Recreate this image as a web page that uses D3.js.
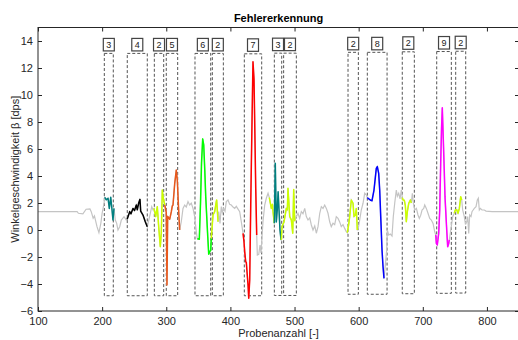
<!DOCTYPE html>
<html>
<head>
<meta charset="utf-8">
<script src="https://cdn.jsdelivr.net/npm/d3@7"></script>
<style>
  body { margin: 0; background: #fff; }
  svg { font-family: "Liberation Sans", Arial, sans-serif; }
</style>
</head>
<body>
<div id="chart"></div>
<script>
// ---- data ----
const xTicks = [100, 200, 300, 400, 500, 600, 700, 800];
const yTicks = [-6, -4, -2, 0, 2, 4, 6, 8, 10, 12, 14];

// signal: sample index / angular rate
const sampleX = [100, 161, 163, 170, 175, 181, 183, 186, 188, 192, 195, 198, 200, 203,
  204, 206.5, 209.2, 211.2, 213.4, 215.4, 216.9, 218.5, 220.5,
  222.7, 224.7, 227.4, 229.9, 234.1, 237.7,
  239, 243, 245, 248.1, 250.5, 253.3, 254.8, 257, 259, 260.1, 263.7, 267.3, 270.4,
  272.6, 275.1, 277.3, 279.3,
  280.9, 283.5, 286, 288.2, 290.7, 292.3, 293.8, 295.4, 297.6,
  300, 301.1, 302.2, 305.4, 307.9, 309.4, 310.5, 313.2, 315.6, 317.2, 319.4, 320.9,
  323.4, 326.1, 328.7, 331.2, 333.9, 336.5, 339, 341.7, 344.3, 346.8, 348.4,
  351.5, 353.4, 355, 356.8, 358.4, 360, 361.5, 363.1, 364.7, 366.2, 367.8, 369.3, 370.2,
  371.3, 372.9, 375.5, 378, 378.6, 380.7,
  381.8, 383.8, 385.8, 387.4, 389.6, 391.6, 393.6, 396.3, 398.9, 401.4, 404.1, 406.7, 409.2, 411.9, 414.5, 417, 419.7,
  421.2, 422.3, 423.9, 424.8, 425.9, 427.5, 428.6, 430.1, 431.7, 433.7, 435.2, 436.8, 437.9, 439.5, 441,
  442, 444.2, 446.2, 447.7, 449.3, 450.8, 453.5, 456, 458.7, 460.7,
  463.8, 465.4, 466.4, 468.5,
  470, 471.6, 473.1, 474.4, 475.8, 477.3, 478.9, 479.4,
  480.5, 483.6, 487.2, 488.8, 489.8, 492.5, 495, 497.2, 498.7, 500.3,
  502.8, 505.4, 508, 510.6, 513.2, 515.9, 518.4, 521, 523.7, 526.2, 528.8, 531.5, 534, 536.6, 539.3, 541.8,
  544.4, 547, 549.6, 552.2, 554.8, 557.3, 560, 562.6, 565.1, 567.8, 570.4, 572.9, 575.6, 578.2, 580.7,
  582.3, 584.1, 586, 588.5, 591.2, 592.7, 594.8, 596.3, 597.9,
  599, 601.6, 604.1, 606.8, 609.4, 611.9, 613.5,
  614.6, 618.8, 620.8, 623.9, 627.5, 629.1, 631.2, 632.8, 634.4, 636.4, 638, 639.5,
  641.6, 643.7, 644.7, 646.8, 649.3, 652, 654, 656.2, 658.7, 660.3, 662.4, 664.5, 666.5, 668.1,
  669.2, 671.2, 672.8, 674.3, 675.9, 678.1, 680.6, 682.1,
  683.7, 685.3, 687.4, 690, 692.5, 694.6, 696.8, 698.8, 701.4, 703, 705.5, 708.1, 710.8, 713.3, 716, 718.6, 720.2,
  721.1, 722.6, 724.8, 726.4, 727.9, 729.2, 730.4, 732, 733.4, 734.6, 737.3, 738.8, 740.4, 741.3,
  744, 746.6, 749.1,
  750.7, 752.9, 754.9, 757, 759.1, 760.7,
  762.2, 764.7, 766.3, 768.5, 770, 771.6, 773.1, 775.2, 776.7, 778.8, 780.3, 783, 785, 786.6, 788.1, 789.7,
  792.3, 795.9, 798.6, 808, 850];
const rateY = [1.36, 1.36, 1.24, 1.19, 1.54, 1.56, 1.36, 0.87, 1.04, 0.25, -0.2, 0.5, 1.24, 1.98,
  2.42, 2.24, 2.35, 1.6, 2.42, 1.5, 0.74, 1.6, 0.74,
  0.49, 0.0, 0.24, 0.74, 0.99, 0.74,
  0.8, 1.36, 1.2, 1.6, 1.45, 1.85, 1.5, 2.0, 2.27, 1.4, 1.11, 0.61, 0.24,
  0.7, 1.24, 1.73, 1.5,
  1.6, 0.99, 1.73, 0.24, -1.24, -0.2, 2.96, 2.35, 1.85,
  1.3, -4.07, 1.0, 0.8, 1.36, 1.78, 1.85, 3.46, 4.44, 3.7, 1.36, 0.0,
  0.61, 1.6, 1.85, 1.7, 2.1, 1.85, 1.98, 1.6, 0.99, -0.1, -0.65,
  -0.69, 2.0, 5.0, 6.75, 6.3, 4.5, 2.5, 0.99, -0.5, -1.8, -1.6, -1.5, -0.62,
  0.12, 1.11, 1.36, 2.1, 2.22, 0.61,
  1.36, 0.49, 1.73, 1.3, 1.6, 1.4, 2.1, 2.22, 1.9, 1.85, 1.7, 1.6, 1.75, 1.55, 1.36, 0.61, -0.25,
  -0.87, -1.6, -2.35, -2.4, -3.09, -4.07, -5.06, -3.7, 1.85, 8.02, 12.47, 11.2, 7.98, 3.09, -0.37,
  -1.85, -1.8, -1.11, -1.7, -0.5, 0.61, 1.85, 2.35, 2.72, 2.4,
  1.6, 1.9, 1.36, 0.5,
  4.94, 0.6, 1.5, 2.84, 1.5, 0.0, -0.7, -0.74,
  0.25, 0.61, 1.6, 1.5, 3.09, 1.0, 0.75, -0.24, 3.0, 0.65,
  0.99, 1.24, 0.86, 1.36, 1.2, 1.6, 0.99, 0.74, 0.9, 0.37, 0.0, 0.3, -0.24, 0.25, 1.24, 1.73,
  1.6, 1.85, 1.6, 1.24, 0.61, 0.25, 0.5, 0.4, 0.99, 0.86, 0.6, 0.25, 0.4, 0.12, -0.12,
  -0.2, 0.3, 0.99, 2.22, 1.98, 1.0, 1.11, 1.6, 0.0,
  0.0, 0.74, 1.48, 1.98, 2.72, 2.6, 2.4,
  2.35, 2.2, 2.17, 2.96, 4.57, 4.7, 4.2, 2.96, 0.99, -1.48, -2.72, -3.58,
  -2.59, -1.48, 0.0, -0.37, -0.3, -0.44, 0.99, 1.98, 2.96, 2.5, 2.72, 2.3, 2.96, 2.4,
  2.22, 2.2, 1.8, 0.61, 1.36, 1.98, 2.22, 2.0,
  2.72, 2.0, 1.48, 1.6, 1.11, 0.86, 1.1, 1.48, 1.6, 1.85, 1.6, 1.24, 0.86, 0.74, 0.49, -0.13, -0.37,
  -0.99, -1.11, -0.25, 1.48, 4.94, 7.5, 9.06, 6.67, 4.5, 2.47, 0.0, -1.24, -1.0, -0.74,
  0.12, 0.99, 1.24,
  1.48, 1.5, 1.24, 1.6, 2.47, 2.22,
  1.48, 0.99, 0.49, 0.6, 1.0, -0.25, 1.11, 1.0, 1.36, 1.5, 1.6, 1.73, 2.22, 2.35, 1.48, 1.6,
  1.48, 1.48, 1.4, 1.36, 1.36];

// highlighted (classified) stretches of the signal
const segStart = [204, 239, 280.9, 297.6, 348.4, 370.2, 419.7, 460.7, 468.5, 479.4, 582.3, 613.5, 668.1, 720.2, 749.1];
const segEnd   = [218.5, 270.4, 297.6, 320.9, 370.2, 380.7, 441, 468.5, 479.4, 500.3, 597.9, 639.5, 682.1, 741.3, 760.7];
const segColor = ["#008080", "#000000", "#ccff00", "#e8581c", "#00ff00", "#ccff00", "#ff0000", "#ccff00",
  "#008080", "#ccff00", "#ccff00", "#0000ff", "#ccff00", "#ff00ff", "#ccff00"];

// detection windows
const boxStart  = [203.4, 239.2, 281.4, 300, 344.8, 371.8, 421.7, 468.5, 483, 583.4, 613.5, 668, 721.7, 751.3];
const boxEnd    = [217.4, 270.4, 296, 317.8, 369.3, 389, 448.8, 480, 502.8, 599.5, 644.3, 686.8, 744.5, 766.9];
const boxTop    = [13.08, 13.08, 13.08, 13.08, 13.08, 13.08, 13.05, 13.1, 13.1, 13.16, 13.16, 13.2, 13.22, 13.24];
const boxBottom = [-4.87, -4.87, -4.87, -4.87, -4.87, -4.87, -4.87, -4.85, -4.85, -4.76, -4.76, -4.72, -4.69, -4.67];
const boxLabel  = ["3", "4", "2", "5", "6", "2", "7", "3", "2", "2", "8", "2", "9", "2"];

// ---- layout ----
const W = 518, H = 340;
const margin = { top: 27.5, right: -1, bottom: 29, left: 38 };
const width = W - margin.left - margin.right;
const height = H - margin.top - margin.bottom;

const svg = d3.select("#chart").append("svg")
  .attr("width", W)
  .attr("height", H);

const g = svg.append("g")
  .attr("transform", "translate(" + margin.left + "," + margin.top + ")");

const x = d3.scaleLinear().domain([100, 850]).range([0, width]);
const y = d3.scaleLinear().domain([-6, 15]).range([height, 0]);

const pts = sampleX.map((s, i) => ({ s: s, v: rateY[i] }));

const line = d3.line()
  .x(d => x(d.s))
  .y(d => y(d.v));

// dashed windows
g.selectAll(".win")
  .data(boxStart)
  .enter().append("rect")
  .attr("class", "win")
  .attr("x", (d, i) => x(boxStart[i]))
  .attr("y", (d, i) => y(boxTop[i]))
  .attr("width", (d, i) => x(boxEnd[i]) - x(boxStart[i]))
  .attr("height", (d, i) => y(boxBottom[i]) - y(boxTop[i]))
  .style("fill", "none")
  .style("stroke", "#555")
  .style("stroke-width", 1)
  .style("stroke-dasharray", "3,2");

// grey base signal
g.append("path")
  .datum(pts)
  .attr("d", line)
  .style("fill", "none")
  .style("stroke", "#c4c4c4")
  .style("stroke-width", 1.2);

// coloured stretches
segStart.forEach(function (s0, i) {
  const part = pts.filter(p => p.s >= s0 && p.s <= segEnd[i]);
  g.append("path")
    .datum(part)
    .attr("d", line)
    .style("fill", "none")
    .style("stroke", segColor[i])
    .style("stroke-width", 1.5)
    .style("stroke-linejoin", "round");
});

// number labels above the windows
const lab = g.selectAll(".lab")
  .data(boxLabel)
  .enter().append("g")
  .attr("class", "lab")
  .attr("transform", (d, i) =>
    "translate(" + ((x(boxStart[i]) + x(boxEnd[i])) / 2) + "," + (y(boxTop[i]) - 8.5) + ")");

lab.append("rect")
  .attr("x", -5.5)
  .attr("y", -6.5)
  .attr("width", 11)
  .attr("height", 12.5)
  .style("fill", "#fff")
  .style("stroke", "#444")
  .style("stroke-width", 1.2);

lab.append("text")
  .attr("dy", "0.35em")
  .attr("text-anchor", "middle")
  .style("font-size", "9px")
  .style("fill", "#222")
  .text(d => d);

// axes box with inward ticks
const axisColor = "#262626";
g.append("rect")
  .attr("width", width)
  .attr("height", height)
  .style("fill", "none")
  .style("stroke", axisColor)
  .style("stroke-width", 1);

const xAxis = g.append("g")
  .attr("transform", "translate(0," + height + ")")
  .call(d3.axisBottom(x).tickValues(xTicks).tickSizeInner(-4).tickSizeOuter(0).tickPadding(6));
const xTop = g.append("g")
  .call(d3.axisTop(x).tickValues(xTicks).tickSizeInner(-4).tickSizeOuter(0).tickFormat(""));
const yAxis = g.append("g")
  .call(d3.axisLeft(y).tickValues(yTicks).tickSizeInner(-4).tickSizeOuter(0).tickPadding(5));
const yRight = g.append("g")
  .attr("transform", "translate(" + width + ",0)")
  .call(d3.axisRight(y).tickValues(yTicks).tickSizeInner(-4).tickSizeOuter(0).tickFormat(""));

[xAxis, xTop, yAxis, yRight].forEach(function (a) {
  a.select(".domain").remove();
  a.selectAll("line").style("stroke", axisColor);
  a.selectAll("text")
    .style("font-family", "'Liberation Sans', Arial, sans-serif")
    .style("font-size", "11px")
    .style("fill", axisColor);
});

// titles
svg.append("text")
  .attr("x", margin.left + width / 2)
  .attr("y", 22)
  .attr("text-anchor", "middle")
  .style("font-size", "11px")
  .style("font-weight", "bold")
  .style("fill", "#000")
  .text("Fehlererkennung");

svg.append("text")
  .attr("x", margin.left + width / 2)
  .attr("y", 337)
  .attr("text-anchor", "middle")
  .style("font-size", "11px")
  .style("fill", axisColor)
  .text("Probenanzahl [-]");

svg.append("text")
  .attr("transform", "translate(19," + (margin.top + height / 2) + ") rotate(-90)")
  .attr("text-anchor", "middle")
  .style("font-size", "11px")
  .style("fill", axisColor)
  .text("Winkelgeschwindigkeit β [dps]");
</script>
</body>
</html>
